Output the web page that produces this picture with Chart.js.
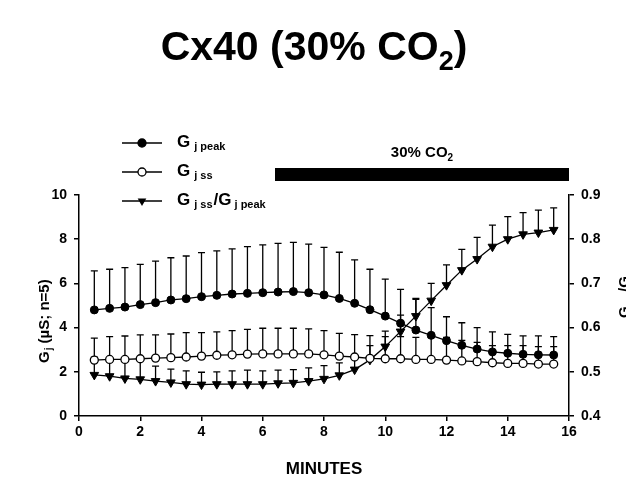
<!DOCTYPE html>
<html>
<head>
<meta charset="utf-8">
<title>Cx40 (30% CO2)</title>
<script src="https://cdn.jsdelivr.net/npm/chart.js@4.4.1/dist/chart.umd.min.js"></script>
<style>
  html, body { margin: 0; padding: 0; background: #fff; }
  #wrap { width: 626px; height: 479px; }
</style>
</head>
<body>
<div id="wrap"><canvas id="chart" width="626" height="479"></canvas></div>
<script>
// time points (minutes)
const minutes = [0.5, 1, 1.5, 2, 2.5, 3, 3.5, 4, 4.5, 5, 5.5, 6, 6.5, 7, 7.5, 8,
  8.5, 9, 9.5, 10, 10.5, 11, 11.5, 12, 12.5, 13, 13.5, 14, 14.5, 15, 15.5];

// Gj peak (uS) and its SEM
const gjPeak = [4.80, 4.87, 4.93, 5.04, 5.13, 5.25, 5.31, 5.40, 5.46, 5.52, 5.55, 5.58, 5.61, 5.63, 5.58, 5.48,
  5.32, 5.10, 4.81, 4.52, 4.20, 3.89, 3.65, 3.41, 3.20, 3.03, 2.90, 2.84, 2.79, 2.77, 2.76];
const gjPeakSem = [1.77, 1.77, 1.78, 1.82, 1.88, 1.91, 1.93, 1.99, 2.01, 2.04, 2.11, 2.16, 2.20, 2.23, 2.20, 2.15,
  2.09, 1.96, 1.83, 1.67, 1.53, 1.39, 1.25, 1.08, 1.02, 0.97, 0.91, 0.85, 0.84, 0.86, 0.83];

// Gj ss (uS) and its SEM
const gjSs = [2.53, 2.56, 2.56, 2.59, 2.62, 2.64, 2.67, 2.71, 2.75, 2.77, 2.80, 2.81, 2.81, 2.81, 2.81, 2.77,
  2.71, 2.67, 2.61, 2.59, 2.59, 2.56, 2.56, 2.53, 2.49, 2.46, 2.41, 2.38, 2.38, 2.35, 2.35];
const gjSsSem = [0.99, 1.03, 1.06, 1.08, 1.05, 1.07, 1.10, 1.06, 1.06, 1.09, 1.12, 1.16, 1.16, 1.16, 1.13, 1.09,
  1.03, 1.01, 1.03, 1.00, 1.00, 1.00, 1.00, 1.03, 0.93, 0.87, 0.77, 0.80, 0.80, 0.79, 0.79];

// Gj ss / Gj peak (right axis) and its SEM
const ratio = [0.493, 0.490, 0.485, 0.483, 0.479, 0.476, 0.472, 0.471, 0.472, 0.472, 0.472, 0.472, 0.474, 0.475, 0.479, 0.484,
  0.492, 0.505, 0.527, 0.557, 0.591, 0.626, 0.661, 0.696, 0.730, 0.755, 0.783, 0.800, 0.811, 0.815, 0.821];
const ratioSem = [0.040, 0.042, 0.045, 0.047, 0.034, 0.030, 0.030, 0.028, 0.028, 0.030, 0.032, 0.030, 0.030, 0.030, 0.030, 0.030,
  0.028, 0.028, 0.032, 0.035, 0.037, 0.040, 0.039, 0.046, 0.047, 0.049, 0.049, 0.051, 0.049, 0.051, 0.050];

// ticks
const xTicks = [0, 2, 4, 6, 8, 10, 12, 14, 16];
const yTicks = [0, 2, 4, 6, 8, 10];
const y2Ticks = [0.4, 0.5, 0.6, 0.7, 0.8, 0.9];

// CO2 application period (minutes)
const co2Start = 6.4;
const co2End = 16;

const FAMILY = '"Liberation Sans", Arial, Helvetica, sans-serif';
Chart.defaults.font.family = FAMILY;
Chart.defaults.color = '#000';

const toPoints = (vals) => vals.map((v, i) => ({ x: minutes[i], y: v }));
const setTicks = (list) => (scale) => { scale.ticks = list.map(v => ({ value: v })); };

// draw a row of text pieces: [text, size, drop, gapBefore]
function drawRich(ctx, parts, x, y, align) {
  let w = 0;
  parts.forEach(p => {
    ctx.font = `bold ${p[1]}px ${FAMILY}`;
    w += ctx.measureText(p[0]).width + (p[3] || 0);
  });
  let cx = align === 'center' ? x - w / 2 : x;
  parts.forEach(p => {
    ctx.font = `bold ${p[1]}px ${FAMILY}`;
    cx += p[3] || 0;
    ctx.fillText(p[0], cx, y + (p[2] || 0));
    cx += ctx.measureText(p[0]).width;
  });
}

function drawMarker(ctx, style, x, y) {
  ctx.beginPath();
  if (style === 'tri') {
    const r = 5;
    ctx.moveTo(x, y + r);
    ctx.lineTo(x - r * 0.866, y - r * 0.5);
    ctx.lineTo(x + r * 0.866, y - r * 0.5);
    ctx.closePath();
    ctx.fillStyle = '#000';
    ctx.fill();
  } else {
    ctx.arc(x, y, 4, 0, Math.PI * 2);
    ctx.fillStyle = style === 'open' ? '#fff' : '#000';
    ctx.fill();
    ctx.lineWidth = 1.3;
    ctx.stroke();
  }
}

// upper SEM bars
const errorBars = {
  id: 'errorBars',
  beforeDatasetsDraw(chart) {
    const ctx = chart.ctx;
    const xs = chart.scales.x;
    ctx.save();
    ctx.strokeStyle = '#000';
    ctx.lineWidth = 1.3;
    chart.data.datasets.forEach(ds => {
      const ys = chart.scales[ds.yAxisID];
      ds.data.forEach((p, i) => {
        const px = xs.getPixelForValue(p.x);
        const y0 = ys.getPixelForValue(p.y);
        const y1 = ys.getPixelForValue(p.y + ds.sem[i]);
        ctx.beginPath();
        ctx.moveTo(px, y0);
        ctx.lineTo(px, y1);
        ctx.moveTo(px - 3.5, y1);
        ctx.lineTo(px + 3.5, y1);
        ctx.stroke();
      });
    });
    ctx.restore();
  }
};

// title, legend, axis titles, CO2 bar
const decorations = {
  id: 'decorations',
  afterDraw(chart) {
    const ctx = chart.ctx;
    const xs = chart.scales.x;
    ctx.save();
    ctx.fillStyle = '#000';
    ctx.strokeStyle = '#000';
    ctx.textBaseline = 'alphabetic';
    ctx.textAlign = 'left';

    drawRich(ctx, [['Cx40 (30% CO', 41], ['2', 27, 10], [')', 41]], 314, 60, 'center');

    // CO2 bar
    const bx0 = xs.getPixelForValue(co2Start);
    const bx1 = xs.getPixelForValue(co2End);
    ctx.fillRect(bx0, 168, bx1 - bx0, 13);
    drawRich(ctx, [['30% CO', 15], ['2', 10, 4]], (bx0 + bx1) / 2, 157, 'center');

    // legend
    const rows = [
      { y: 143, style: 'filled', parts: [['G', 17], ['j peak', 11, 3, 4]] },
      { y: 172, style: 'open', parts: [['G', 17], ['j ss', 11, 3, 4]] },
      { y: 201, style: 'tri', parts: [['G', 17], ['j ss', 11, 3, 4], ['/G', 17, 0, 1], ['j peak', 11, 3, 3]] }
    ];
    rows.forEach(r => {
      ctx.strokeStyle = '#000';
      ctx.lineWidth = 1.3;
      ctx.beginPath();
      ctx.moveTo(122, r.y);
      ctx.lineTo(162, r.y);
      ctx.stroke();
      drawMarker(ctx, r.style, 142, r.y);
      ctx.fillStyle = '#000';
      drawRich(ctx, r.parts, 177, r.y + 4, 'left');
    });

    // x title
    drawRich(ctx, [['MINUTES', 17]], (xs.left + xs.right) / 2, 474, 'center');

    // left y title
    ctx.save();
    ctx.translate(49, 363);
    ctx.rotate(-Math.PI / 2);
    drawRich(ctx, [['G', 15], ['j', 10, 3, 1], [' (\u00b5S; n=5)', 15]], 0, 0, 'left');
    ctx.restore();

    // right y title (runs off the edge)
    ctx.save();
    ctx.translate(629, 318);
    ctx.rotate(-Math.PI / 2);
    drawRich(ctx, [['G', 15], ['j ss', 8, 3, 1], ['/G', 15], ['j peak', 8, 3, 1]], 0, 0, 'left');
    ctx.restore();

    ctx.restore();
  }
};

const tickFont = { size: 14, weight: 'bold' };
const axisBorder = { display: true, color: '#000', width: 1.5 };
const axisGrid = { drawOnChartArea: false, drawTicks: true, tickLength: 5, color: '#000', lineWidth: 1.5 };

new Chart(document.getElementById('chart'), {
  type: 'line',
  data: {
    datasets: [
      {
        label: 'Gj peak',
        data: toPoints(gjPeak),
        sem: gjPeakSem,
        yAxisID: 'y',
        borderColor: '#000',
        borderWidth: 1.3,
        pointStyle: 'circle',
        pointRadius: 4,
        pointBackgroundColor: '#000',
        pointBorderColor: '#000',
        pointBorderWidth: 1
      },
      {
        label: 'Gj ss',
        data: toPoints(gjSs),
        sem: gjSsSem,
        yAxisID: 'y',
        borderColor: '#000',
        borderWidth: 1.3,
        pointStyle: 'circle',
        pointRadius: 4,
        pointBackgroundColor: '#fff',
        pointBorderColor: '#000',
        pointBorderWidth: 1.3
      },
      {
        label: 'Gj ss/Gj peak',
        data: toPoints(ratio),
        sem: ratioSem,
        yAxisID: 'y2',
        borderColor: '#000',
        borderWidth: 1.3,
        pointStyle: 'triangle',
        pointRotation: 180,
        pointRadius: 5,
        pointBackgroundColor: '#000',
        pointBorderColor: '#000',
        pointBorderWidth: 1
      }
    ]
  },
  options: {
    responsive: false,
    animation: false,
    devicePixelRatio: 1,
    layout: { padding: { top: 195, left: 0, right: 0, bottom: 0 } },
    plugins: { legend: { display: false }, tooltip: { enabled: false }, title: { display: false } },
    scales: {
      x: {
        type: 'linear',
        min: 0,
        max: 16,
        afterBuildTicks: setTicks(xTicks),
        afterFit: (s) => { s.height = 63; },
        ticks: { font: tickFont, color: '#000', padding: 3, maxRotation: 0 },
        grid: axisGrid,
        border: axisBorder
      },
      y: {
        position: 'left',
        min: 0,
        max: 10,
        afterBuildTicks: setTicks(yTicks),
        afterFit: (s) => { s.width = 79; },
        ticks: { font: tickFont, color: '#000', padding: 7 },
        grid: axisGrid,
        border: axisBorder
      },
      y2: {
        position: 'right',
        min: 0.4,
        max: 0.9,
        afterBuildTicks: setTicks(y2Ticks),
        afterFit: (s) => { s.width = 57; },
        ticks: { font: tickFont, color: '#000', padding: 7, callback: (v) => v.toFixed(1) },
        grid: axisGrid,
        border: axisBorder
      }
    }
  },
  plugins: [errorBars, decorations]
});
</script>
</body>
</html>
